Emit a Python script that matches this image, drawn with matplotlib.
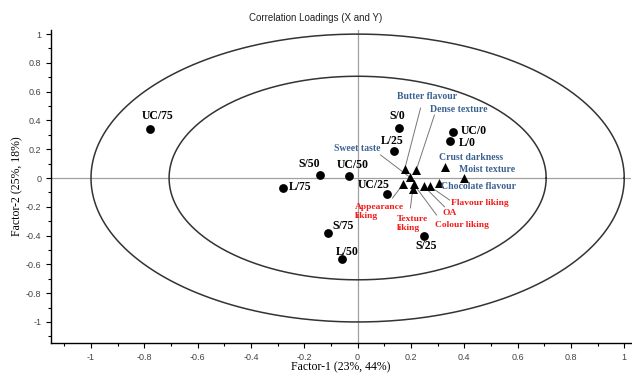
import numpy as np
import matplotlib
matplotlib.use("Agg")
import matplotlib.pyplot as plt
from matplotlib.ticker import MultipleLocator

# Samples (circles)
sample_names = ["UC/75", "S/50", "UC/50", "L/75", "S/0", "L/25", "UC/0", "L/0",
                "UC/25", "S/75", "S/25", "L/50"]
sample_x = [-0.78, -0.14, -0.034, -0.28, 0.157, 0.135, 0.356, 0.345, 0.11, -0.11, 0.25, -0.06]
sample_y = [0.34, 0.02, 0.014, -0.07, 0.35, 0.19, 0.32, 0.26, -0.11, -0.38, -0.40, -0.56]

# X variables (blue triangles)
xvar_names = ["Butter flavour", "Dense texture", "Sweet taste", "Crust darkness",
              "Moist texture", "Chocolate flavour"]
xvar_x = [0.177, 0.22, 0.195, 0.327, 0.40, 0.305]
xvar_y = [0.065, 0.055, 0.007, 0.076, 0.002, -0.037]

# Y variables (red triangles)
yvar_names = ["Appearance\nliking", "Texture\nliking", "Colour liking", "OA", "Flavour liking"]
yvar_x = [0.17, 0.207, 0.211, 0.248, 0.27]
yvar_y = [-0.044, -0.074, -0.044, -0.056, -0.056]

title = "Correlation Loadings (X and Y)"
xlabel = "Factor-1 (23%, 44%)"
ylabel = "Factor-2 (25%, 18%)"

# ---- layout (label placement) ----
sample_off = [(8, 13), (-11, 11), (4, 11), (17, 1), (-2, 12), (-1, 10), (21, 1), (18, -2),
              (-13, 9), (15, 7), (2, -10), (6, 7)]
# (text x, text y, ha, leader start x, leader start y) in data coords; None = no leader
xvar_lab = [(0.262, 0.569, "center", 0.236, 0.486),
            (0.378, 0.479, "center", 0.288, 0.4375),
            (0.0, 0.208, "center", 0.086, 0.16),
            (0.427, 0.146, "center", None, None),
            (0.487, 0.0625, "center", None, None),
            (0.453, -0.056, "center", 0.318, -0.035)]
yvar_lab = [(-0.01, -0.23, "left", 0.131, -0.139),
            (0.148, -0.315, "left", 0.198, -0.208),
            (0.393, -0.326, "center", 0.296, -0.257),
            (0.345, -0.243, "center", 0.326, -0.2),
            (0.457, -0.174, "center", 0.345, -0.153)]

blue = "#3b6191"
red = "#f21c1c"
serif = ["Liberation Serif", "DejaVu Serif"]
sans = ["Liberation Sans", "DejaVu Sans"]

fig = plt.figure(figsize=(6.32, 3.76), dpi=100)
ax = fig.add_axes([0.0807, 0.0878, 0.918, 0.833])
ax.set_xlim(-1.15, 1.026)
ax.set_ylim(-1.146, 1.03)

t = np.linspace(0, 2 * np.pi, 400)
for r in (1.0, np.sqrt(0.5)):
    ax.plot(r * np.cos(t), r * np.sin(t), color="#333333", lw=1.1, zorder=1)
ax.axhline(0, color="#a0a0a0", lw=0.9, zorder=0)
ax.axvline(0, color="#a0a0a0", lw=0.9, zorder=0)

# leader lines
for (tx, ty, ha, lx, ly), px, py in zip(xvar_lab, xvar_x, xvar_y):
    if lx is not None:
        ax.plot([lx, px], [ly, py], color="#777777", lw=0.7, zorder=2)
for (tx, ty, ha, lx, ly), px, py in zip(yvar_lab, yvar_x, yvar_y):
    if lx is not None:
        ax.plot([lx, px], [ly, py], color="#777777", lw=0.7, zorder=2)

ax.scatter(sample_x, sample_y, s=40, color="black", zorder=4, linewidths=0)
ax.scatter(xvar_x, xvar_y, s=42, marker="^", color="black", zorder=4, linewidths=0)
ax.scatter(yvar_x, yvar_y, s=42, marker="^", color="black", zorder=4, linewidths=0)

for name, x, y, off in zip(sample_names, sample_x, sample_y, sample_off):
    ax.annotate(name, (x, y), xytext=off, textcoords="offset pixels",
                ha="center", va="center", fontsize=8.5, fontweight="bold",
                family=serif, color="black", zorder=5)
for name, (tx, ty, ha, lx, ly) in zip(xvar_names, xvar_lab):
    ax.text(tx, ty, name, ha=ha, va="center", fontsize=7, fontweight="bold",
            family=serif, color=blue, zorder=5)
for name, (tx, ty, ha, lx, ly) in zip(yvar_names, yvar_lab):
    ax.text(tx, ty, name, ha=ha, va="center", fontsize=6.8, fontweight="bold",
            family=serif, color=red, zorder=5, linespacing=1.2)

for s in ("top", "right"):
    ax.spines[s].set_visible(False)
ax.spines["left"].set_linewidth(1.0)
ax.spines["bottom"].set_linewidth(1.0)
ax.xaxis.set_major_locator(MultipleLocator(0.2))
ax.xaxis.set_minor_locator(MultipleLocator(0.1))
ax.yaxis.set_major_locator(MultipleLocator(0.2))
ax.yaxis.set_minor_locator(MultipleLocator(0.1))
ax.tick_params(which="major", length=3.5, width=0.8, labelsize=6.5, labelcolor="#444444", direction="out")
ax.tick_params(which="minor", length=2, width=0.8, direction="out")

def fmt(v, pos):
    v = round(v, 2)
    if abs(v) < 1e-9:
        return "0"
    return ("%g" % v)
ax.xaxis.set_major_formatter(plt.FuncFormatter(fmt))
ax.yaxis.set_major_formatter(plt.FuncFormatter(fmt))
for lab in ax.get_xticklabels() + ax.get_yticklabels():
    lab.set_family(sans)

ax.set_xlabel(xlabel, family=serif, fontsize=8.5)
ax.set_ylabel(ylabel, family=serif, fontsize=8.5)
ax.xaxis.set_label_coords(0.5, -0.057)
ax.yaxis.set_label_coords(-0.047, 0.5)
fig.text(0.5, 0.952, title, ha="center", va="center", family=sans, fontsize=7, color="#222222")

fig.savefig("out.png", dpi=100)
